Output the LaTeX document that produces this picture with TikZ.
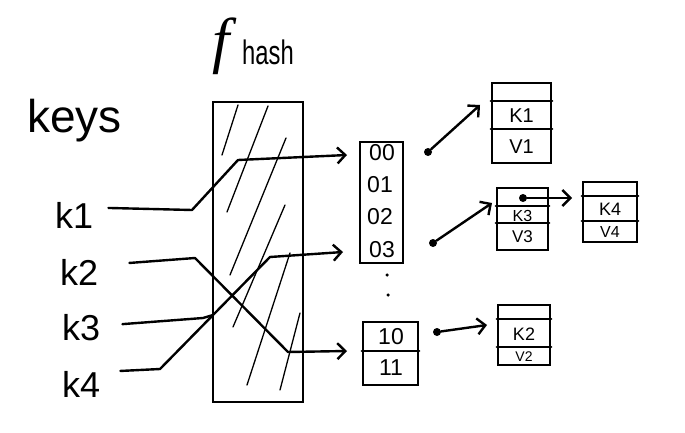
\documentclass[tikz,border=0pt]{standalone}
\usepackage{fontspec}
\setmainfont{Liberation Sans}
\newfontfamily\fserif{Liberation Serif}
\usetikzlibrary{arrows.meta}
\begin{document}
\begin{tikzpicture}[x=1pt,y=-1pt,
  ln/.style={line width=2.4pt, line cap=round, line join=round},
  hatch/.style={line width=1.3pt, line cap=round},
  tip/.style={-{Straight Barb[length=8pt,width=16pt]}},
  dotn/.style={circle, fill=black, inner sep=0pt, minimum size=8pt},
  smalldot/.style={circle, fill=black, inner sep=0pt, minimum size=3.5pt},
  box/.style={draw, line width=2.4pt, inner sep=0pt},
  keylbl/.style={inner sep=0pt, anchor=base west, font=\fontsize{36}{36}\selectfont},
  slot/.style={inner sep=0pt, font=\fontsize{23}{23}\selectfont},
  cell/.style={inner sep=0pt, font=\fontsize{#1}{#1}\selectfont},
  cell/.default=18
]
\useasboundingbox (0,0) rectangle (685,433);

% titles
\node[anchor=base, inner sep=0pt] (fsym) at (221,62) {\fontsize{62}{62}\fserif\itshape f};
\node[anchor=base west, inner sep=0pt] (fsub) at (242,65) {\fontsize{34}{34}\selectfont\scalebox{0.7}[1]{hash}};
\node[anchor=base west, inner sep=0pt] (keys) at (27,132) {\fontsize{46}{46}\selectfont keys};

% key labels
\node[keylbl] (k1) at (55,228) {k1};
\node[keylbl] (k2) at (60,285) {k2};
\node[keylbl] (k3) at (62,340) {k3};
\node[keylbl] (k4) at (62,397) {k4};

% hash function box
\node[box, minimum width=90pt, minimum height=300pt] (hash) at (258,252) {};
\draw[hatch] (238,105) -- (222,155);
\draw[hatch] (268,106) -- (227,212);
\draw[hatch] (286,138) -- (230,275);
\draw[hatch] (285,205) -- (233,327);
\draw[hatch] (290,253) -- (247,385);
\draw[hatch] (300,313) -- (280,390);

% bucket array
\node[box, minimum width=43pt, minimum height=121pt] (arr) at (381.5,202.5) {};
\node[slot] (b00) at (382,153) {00};
\node[slot] (b01) at (380,185) {01};
\node[slot] (b02) at (380,217) {02};
\node[slot] (b03) at (382,250) {03};
\node[smalldot] (v1) at (387,275) {};
\node[smalldot] (v2) at (388,295) {};
\node[box, minimum width=55pt, minimum height=63pt] (arr2) at (390.5,353.5) {};
\draw[ln] ([yshift=-30pt]arr2.north west) -- ([yshift=-30pt]arr2.north east);
\node[slot] (b10) at (391,337) {10};
\node[slot] (b11) at (391,368) {11};

% entry boxes
\node[box, minimum width=59pt, minimum height=80pt] (e1) at (521.5,123) {};
\draw[ln] ([yshift=-19pt]e1.north west) -- ([yshift=-19pt]e1.north east);
\draw[ln] ([yshift=-47pt]e1.north west) -- ([yshift=-47pt]e1.north east);
\node[cell=20] (e1k) at (521.5,116) {K1};
\node[cell=20] (e1v) at (521.5,146.5) {V1};

\node[box, minimum width=51pt, minimum height=62pt] (e3) at (522.5,219) {};
\draw[ln] ([yshift=-19pt]e3.north west) -- ([yshift=-19pt]e3.north east);
\draw[ln] ([yshift=-36pt]e3.north west) -- ([yshift=-36pt]e3.north east);
\node[cell=16] (e3k) at (522.5,215.5) {K3};
\node[cell=17] (e3v) at (522.5,237) {V3};

\node[box, minimum width=54pt, minimum height=60pt] (e4) at (610,212) {};
\draw[ln] ([yshift=-15pt]e4.north west) -- ([yshift=-15pt]e4.north east);
\draw[ln] ([yshift=-40pt]e4.north west) -- ([yshift=-40pt]e4.north east);
\node[cell=18] (e4k) at (610,209.5) {K4};
\node[cell=16] (e4v) at (610,232) {V4};

\node[box, minimum width=52pt, minimum height=60pt] (e2) at (524,335) {};
\draw[ln] ([yshift=-15pt]e2.north west) -- ([yshift=-15pt]e2.north east);
\draw[ln] ([yshift=-43pt]e2.north west) -- ([yshift=-43pt]e2.north east);
\node[cell=18] (e2k) at (524,334) {K2};
\node[cell=14] (e2v) at (524,356.5) {V2};

% pointer dots and arrow tips
\node[dotn] (d0) at (428,152) {};
\node[dotn] (d3) at (433,243) {};
\node[dotn] (d10) at (437,332) {};
\node[dotn] (d3b) at (523,198) {};
\coordinate (t0) at (480,105);
\coordinate (t3) at (492,203);
\coordinate (t3b) at (572,198);
\coordinate (t10) at (487,325);
\coordinate (tk1) at (347,155);
\coordinate (tk2) at (347,351);
\coordinate (tk34) at (343,252);

\draw[ln, tip] (d0) -- (t0);
\draw[ln, tip] (d3) -- (t3);
\draw[ln, tip] (d3b) -- (t3b);
\draw[ln, tip] (d10) -- (t10);

% key connectors
\draw[ln, tip] ([xshift=15pt,yshift=7pt]k1.east) -- (192,210) -- (238,160) -- (tk1);
\draw[ln, tip] ([xshift=31pt,yshift=9pt]k2.east) -- (195,258) -- (288,352) -- (tk2);
\draw[ln] ([xshift=22pt,yshift=3pt]k3.east) -- (203,318) -- (213,315);
\draw[ln, tip] ([xshift=20pt,yshift=13pt]k4.east) -- (160,369) -- (270,257) -- (tk34);
\end{tikzpicture}
\end{document}
